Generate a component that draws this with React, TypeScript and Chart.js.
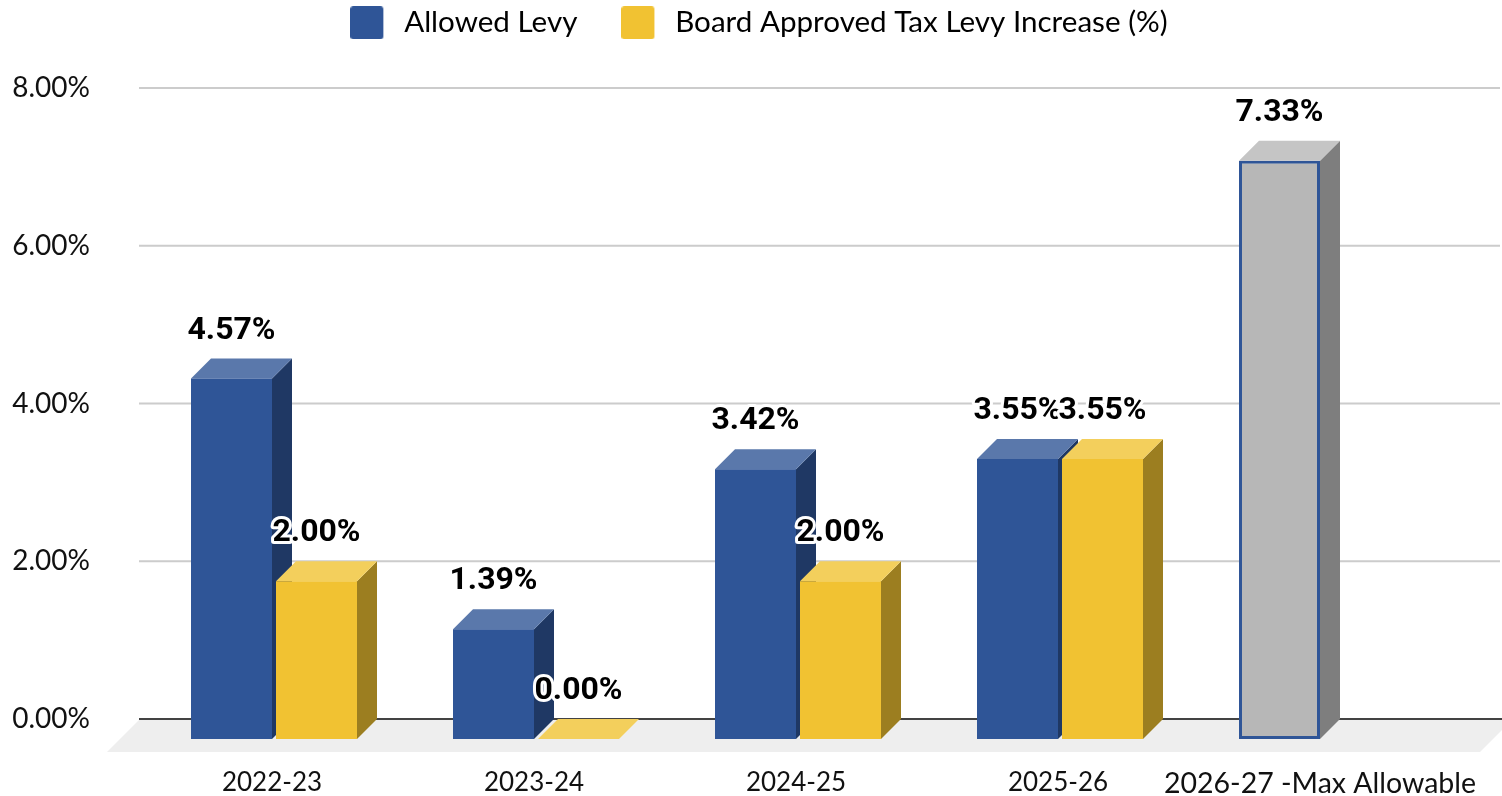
import React, { useEffect, useRef } from "react";
import { Chart, registerables } from "chart.js";

Chart.register(...registerables);

const categories = ["2022-23", "2023-24", "2024-25", "2025-26", "2026-27 -Max Allowable"];
const allowedLevy = [4.57, 1.39, 3.42, 3.55, 7.33];
const boardApproved = [2.0, 0.0, 2.0, 3.55, null];
const seriesNames = ["Allowed Levy", "Board Approved Tax Levy Increase (%)"];

const BLUE = "#2f5597";
const YELLOW = "#f1c232";
const GRAY = "#b7b7b7";
const shade: Record<string, { top: string; side: string }> = {
  [BLUE]: { top: "#5a78ab", side: "#1f3864" },
  [YELLOW]: { top: "#f3cf5c", side: "#9c7e20" },
  [GRAY]: { top: "#c5c5c5", side: "#7e7e7e" },
};
const allowedColors = [BLUE, BLUE, BLUE, BLUE, GRAY];
const allowedBorders = [BLUE, BLUE, BLUE, BLUE, BLUE];
const allowedBorderWidths = [0, 0, 0, 0, 3];

const DX = 20;
const DY = 20;
const W = 1502;
const H = 796;
const CHART_TOP = 88;
const CHART_BOTTOM = 719;

function legendSwatch(color: string) {
  const c = document.createElement("canvas");
  c.width = 39;
  c.height = 33;
  const x = c.getContext("2d")!;
  x.fillStyle = color;
  x.beginPath();
  (x as any).roundRect(0, 0, 33, 33, 3);
  x.fill();
  return c;
}

function drawFaces(chart: any, index: number) {
  const { ctx } = chart;
  const meta = chart.getDatasetMeta(index);
  meta.data.forEach((el: any, i: number) => {
    const v = chart.data.datasets[index].data[i];
    if (v === null || v === undefined) return;
    const { x, y, base, width } = el.getProps(["x", "y", "base", "width"], true);
    const l = x - width / 2;
    const r = x + width / 2;
    const s = shade[el.options.backgroundColor];
    if (base - y > 0) {
      ctx.fillStyle = s.side;
      ctx.beginPath();
      ctx.moveTo(r, y + DY);
      ctx.lineTo(r + DX, y);
      ctx.lineTo(r + DX, base);
      ctx.lineTo(r, base + DY);
      ctx.closePath();
      ctx.fill();
    }
    ctx.fillStyle = s.top;
    ctx.beginPath();
    ctx.moveTo(l, y + DY);
    ctx.lineTo(l + DX, y);
    ctx.lineTo(r + DX, y);
    ctx.lineTo(r, y + DY);
    ctx.closePath();
    ctx.fill();
  });
}

const scenePlugin = {
  id: "scene3d",
  beforeLayout(chart: any) {
    const l = chart.legend;
    if (l && !l.__wrapped) {
      l.__wrapped = true;
      const f = l.fit;
      l.fit = function () {
        f.call(this);
        this.height = CHART_TOP - chart.options.layout.padding.top;
      };
    }
  },
  beforeDatasetsDraw(chart: any) {
    const { ctx, scales } = chart;
    const y = scales.y;
    const area = chart.chartArea;
    ctx.save();
    ctx.fillStyle = "#cccccc";
    y.ticks.forEach((t: any) => {
      if (t.value === 0) return;
      ctx.fillRect(139, y.getPixelForValue(t.value) - 1, W - 141, 2);
    });
    const y0 = y.getPixelForValue(0);
    ctx.fillStyle = "#eeeeee";
    ctx.beginPath();
    ctx.moveTo(area.left - 36, y0 + 33);
    ctx.lineTo(area.left - 4, y0 + 1);
    ctx.lineTo(W + 10, y0 + 1);
    ctx.lineTo(area.right + 27, y0 + 33);
    ctx.closePath();
    ctx.fill();
    ctx.fillStyle = "#434343";
    ctx.fillRect(139, y0 - 1, W - 139, 2);
    ctx.restore();
  },
  // The library paints the last dataset first; the 3D look needs the first series underneath.
  beforeDatasetDraw(chart: any, args: any) {
    if (args.index === 0) return false;
    const { ctx } = chart;
    drawFaces(chart, 0);
    ctx.save();
    ctx.translate(0, DY);
    chart.getDatasetMeta(0).controller.draw();
    ctx.restore();
    drawFaces(chart, 1);
    ctx.save();
    ctx.translate(0, DY);
    return true;
  },
  afterDatasetDraw(chart: any) {
    chart.ctx.restore();
  },
  afterDatasetsDraw(chart: any) {
    const { ctx } = chart;
    ctx.save();
    ctx.font = "bold 32px Roboto";
    ctx.textAlign = "center";
    ctx.textBaseline = "middle";
    ctx.lineJoin = "round";
    [0, 1].forEach((di) => {
      const meta = chart.getDatasetMeta(di);
      meta.data.forEach((el: any, i: number) => {
        const v = chart.data.datasets[di].data[i];
        if (v === null || v === undefined) return;
        const text = v.toFixed(2) + "%";
        const { x, y } = el.getProps(["x", "y"], true);
        ctx.strokeStyle = "#ffffff";
        ctx.lineWidth = 6;
        ctx.strokeText(text, x, y - 28);
        ctx.fillStyle = "#000000";
        ctx.fillText(text, x, y - 28);
      });
    });
    ctx.restore();
  },
};

export default function App() {
  const ref = useRef<HTMLCanvasElement>(null);
  useEffect(() => {
    const swatches = [legendSwatch(BLUE), legendSwatch(YELLOW)];
    const chart = new Chart(ref.current!, {
      type: "bar",
      data: {
        labels: categories,
        datasets: [
          {
            label: seriesNames[0],
            data: allowedLevy,
            backgroundColor: allowedColors,
            borderColor: allowedBorders,
            borderWidth: allowedBorderWidths,
            borderSkipped: false,
          } as any,
          {
            label: seriesNames[1],
            data: boardApproved,
            backgroundColor: YELLOW,
            borderWidth: 0,
            clip: false,
          } as any,
        ],
      },
      options: {
        responsive: false,
        animation: false,
        datasets: { bar: { categoryPercentage: 170 / 262, barPercentage: 81 / 85 } },
        layout: { padding: { top: -36, left: 65, right: 49, bottom: 0 }, autoPadding: false },
        plugins: {
          title: { display: false },
          tooltip: { enabled: false },
          legend: {
            display: true,
            position: "top",
            labels: {
              usePointStyle: true,
              pointStyleWidth: 39,
              boxHeight: 33,
              padding: 44,
              color: "#222222",
              font: { family: "Lato", size: 29.6 },
              generateLabels: () =>
                seriesNames.map((n, i) => ({
                  text: n,
                  pointStyle: swatches[i],
                  fillStyle: i === 0 ? BLUE : YELLOW,
                  strokeStyle: "transparent",
                  lineWidth: 0,
                  hidden: false,
                  datasetIndex: i,
                })),
            },
          },
        },
        scales: {
          x: {
            afterFit: (s: any) => {
              s.height = H - CHART_BOTTOM;
              s.paddingLeft = 0;
              s.paddingRight = 0;
              s.getPadding = () => ({ left: 0, right: 0, top: 0, bottom: 0 });
            },
            grid: { display: false, drawTicks: false },
            border: { display: false },
            ticks: {
              autoSkip: false,
              maxRotation: 0,
              minRotation: 0,
              padding: 48,
              labelOffset: -2,
              color: "#111111",
              font: (c: any) => ({ family: "Lato", size: c.index === 4 ? 28.5 : 26 }),
            },
          },
          y: {
            min: 0,
            max: 8,
            afterFit: (s: any) => {
              s.width = 78;
              s._computeLabelArea = () => undefined;
              s.getPadding = () => ({ left: 0, right: 0, top: 0, bottom: 0 });
            },
            grid: { display: false, drawTicks: false },
            border: { display: false },
            ticks: {
              stepSize: 2,
              padding: 53,
              color: "#111111",
              font: { family: "Lato", size: 28 },
              callback: (v: any) => Number(v).toFixed(2) + "%",
            },
          },
        },
      },
      plugins: [scenePlugin],
    } as any);
    return () => chart.destroy();
  }, []);
  return (
    <div style={{ position: "fixed", left: 0, top: 0, width: W, height: H, background: "#fff" }}>
      <canvas ref={ref} width={W} height={H} style={{ display: "block" }} />
    </div>
  );
}
